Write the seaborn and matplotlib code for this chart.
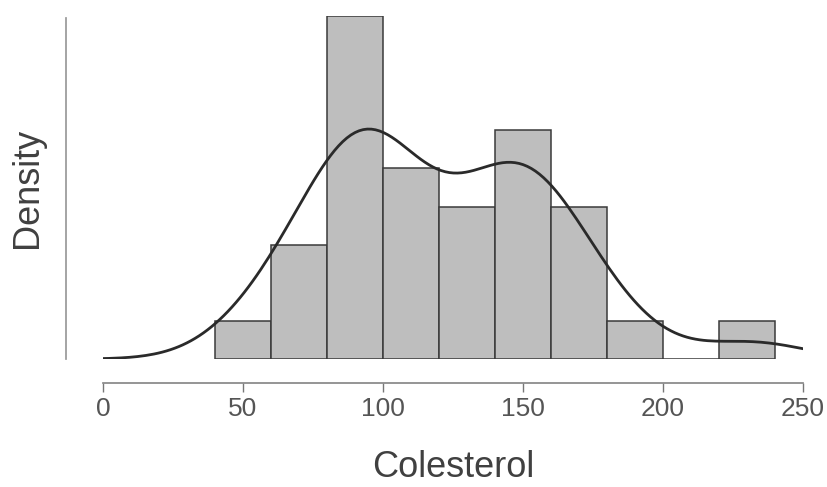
import numpy as np
import matplotlib
matplotlib.use("Agg")
import matplotlib.pyplot as plt
import seaborn as sns

# ------------------------------------------------------------------
# Data (cholesterol sample)
# ------------------------------------------------------------------

colesterol = [
    52,
    62, 67, 75,
    81, 83, 86, 88, 90, 92, 94, 96, 99,
    101, 103, 106, 110, 116,
    126, 132, 136, 139,
    145, 147, 148, 150, 151, 153,
    161, 164, 168, 174,
    186,
    232,
]
bin_edges = [40, 60, 80, 100, 120, 140, 160, 180, 200, 220, 240]
x_ticks = [0, 50, 100, 150, 200, 250]

# ------------------------------------------------------------------
# Plot Style
# ------------------------------------------------------------------

sns.set_theme(style="white")
plt.rcParams["font.family"] = ["Liberation Sans", "DejaVu Sans"]

fig = plt.figure(figsize=(8.28, 4.87), dpi=100)
ax = fig.add_axes([103 / 828, 1 - 359 / 487, 700 / 828, 343 / 487])

sns.histplot(
    x=colesterol,
    bins=bin_edges,
    stat="density",
    color="#bebebe",
    edgecolor="#3a3a3a",
    linewidth=1.1,
    alpha=1,
    ax=ax
)

sns.kdeplot(
    x=colesterol,
    bw_method=0.46,
    cut=3,
    color="#2a2a2a",
    linewidth=2,
    ax=ax
)

ymax = 9 / (len(colesterol) * 20)
ax.set_xlim(0, 250)
ax.set_ylim(0, ymax)

ax.set_xticks(x_ticks)
ax.set_yticks([])
ax.tick_params(axis="x", length=6.5, width=1, color="#777777",
               labelsize=19, labelcolor="#555555", pad=4, bottom=True)

for side in ["top", "right"]:
    ax.spines[side].set_visible(False)

ax.spines["bottom"].set_position(("outward", 17))
ax.spines["bottom"].set_bounds(0, 250)
ax.spines["bottom"].set_color("#888888")
ax.spines["left"].set_position(("outward", 26.5))
ax.spines["left"].set_bounds(0, ymax * 0.995)
ax.spines["left"].set_color("#999999")

ax.set_xlabel("Colesterol", fontsize=26, color="#404040")
ax.set_ylabel("Density", fontsize=26, color="#404040")
ax.xaxis.set_label_coords(0.5, -0.265)
ax.yaxis.set_label_coords(-0.083, 0.5)

fig.savefig("out.png", dpi=100)
